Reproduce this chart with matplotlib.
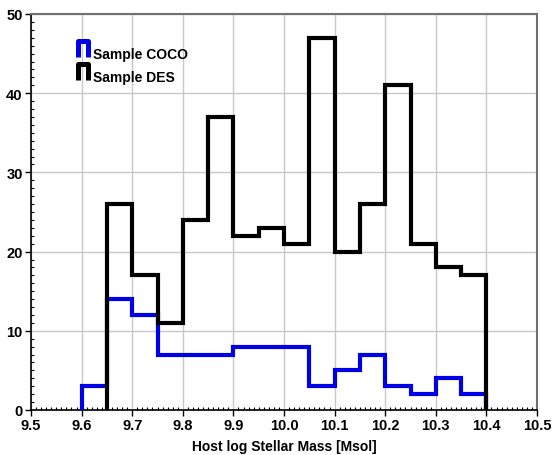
import numpy as np
import matplotlib
matplotlib.use("Agg")
import matplotlib.pyplot as plt
from matplotlib.path import Path
from matplotlib.lines import Line2D
from matplotlib.markers import MarkerStyle
from matplotlib.ticker import MultipleLocator, FormatStrFormatter

# ---- data ----
bin_start = 9.60
bin_width = 0.05
coco_counts = [3, 14, 12, 7, 7, 7, 8, 8, 8, 3, 5, 7, 3, 2, 4, 2]
des_counts = [0, 26, 17, 11, 24, 37, 22, 23, 21, 47, 20, 26, 41, 21, 18, 17]
series_labels = ["Sample COCO", "Sample DES"]
x_ticks = [9.5, 9.6, 9.7, 9.8, 9.9, 10.0, 10.1, 10.2, 10.3, 10.4, 10.5]
y_ticks = [0, 10, 20, 30, 40, 50]
x_label = "Host log Stellar Mass [Msol]"

edges = bin_start + bin_width * np.arange(len(coco_counts) + 1)

plt.rcParams['font.family'] = ['Liberation Sans', 'DejaVu Sans']
plt.rcParams['font.weight'] = 'bold'

fig = plt.figure(figsize=(5.52, 4.56), dpi=100)
ax = fig.add_axes([31 / 552, 1 - 411 / 456, (537 - 31) / 552, (411 - 15) / 456])

blue = '#0000e6'
# COCO
ax.stairs(coco_counts, edges, baseline=0, color=blue, lw=3.0, zorder=3)
# DES (first bin empty -> start at first non-empty bin)
first = next(i for i, v in enumerate(des_counts) if v > 0)
ax.stairs(des_counts[first:], edges[first:], baseline=0, color='black', lw=3.0, zorder=4)

ax.set_xlim(x_ticks[0], x_ticks[-1])
ax.set_ylim(y_ticks[0], y_ticks[-1])
ax.set_xticks(x_ticks)
ax.set_yticks(y_ticks)
ax.xaxis.set_major_formatter(FormatStrFormatter('%.1f'))
ax.xaxis.set_minor_locator(MultipleLocator(0.01))
ax.yaxis.set_minor_locator(MultipleLocator(1))
ax.grid(True, which='major', color='#c8c8c8', lw=1.0, zorder=0)
ax.set_axisbelow(True)

ax.tick_params(axis='both', which='major', direction='out', length=4, width=1,
               labelsize=10.5, pad=2, color='black')
ax.tick_params(axis='x', which='major', pad=2)
ax.tick_params(axis='both', which='minor', direction='in', length=2.5, width=0.8,
               color='black')
for lab in ax.get_xticklabels() + ax.get_yticklabels():
    lab.set_fontweight('bold')

for s in ['left', 'bottom']:
    ax.spines[s].set_color('black')
    ax.spines[s].set_linewidth(1.2)
for s in ['top', 'right']:
    ax.spines[s].set_color('#707070')
    ax.spines[s].set_linewidth(1.5)

ax.set_xlabel(x_label, fontsize=10, fontweight='bold', labelpad=5)

# legend with step-shaped markers (raised relative to text)
pi_path = Path([(-4, -3), (-4, 10), (4, 10), (4, -3)],
               [Path.MOVETO, Path.LINETO, Path.LINETO, Path.LINETO])
pi_marker = MarkerStyle(pi_path, fillstyle='none', joinstyle='miter', capstyle='butt')
handles = [Line2D([], [], ls='none', marker=pi_marker, markersize=18,
                  markeredgecolor=c, markeredgewidth=3.6)
           for c in [blue, 'black']]
leg = ax.legend(handles, series_labels, loc='upper left', bbox_to_anchor=(0.078, 0.935),
                frameon=False, handlelength=0.8, handletextpad=0.3, labelspacing=0.65,
                borderpad=0, prop={'size': 10, 'weight': 'bold'})

fig.savefig('out.png', dpi=100)
